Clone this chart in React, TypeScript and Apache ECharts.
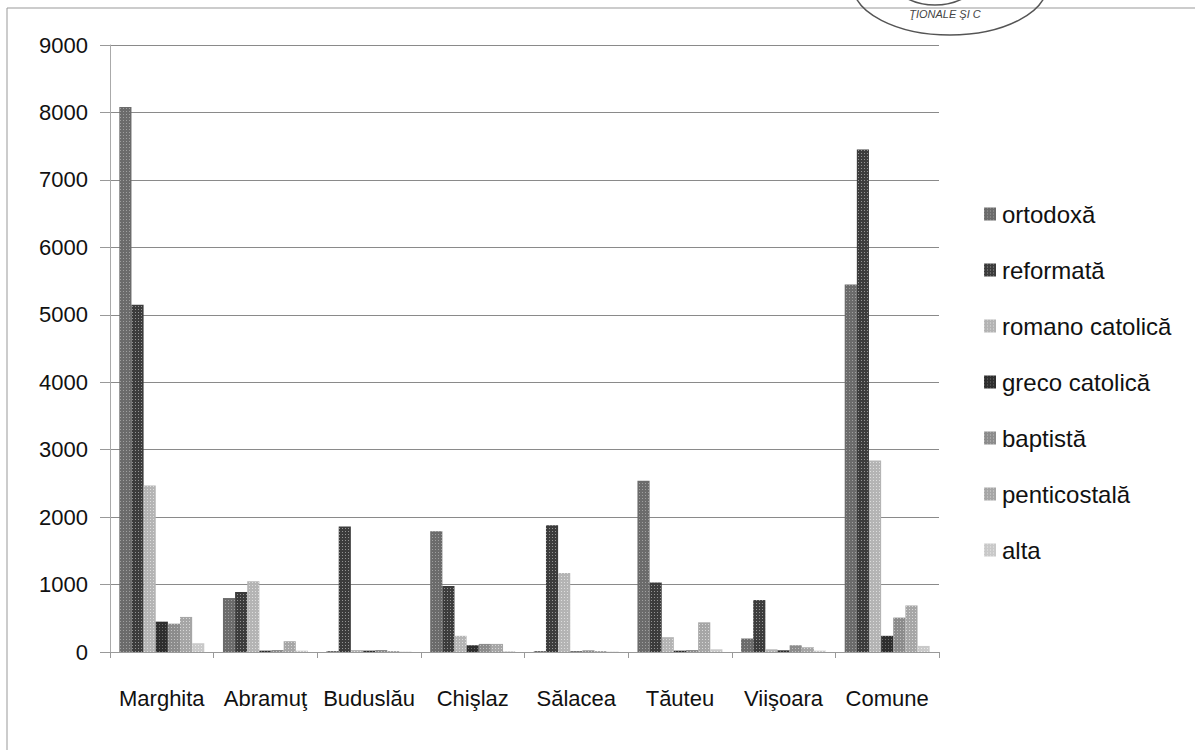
import React, { useEffect, useRef } from "react";
import * as echarts from "echarts";

const categories = ["Marghita", "Abramuţ", "Buduslău", "Chişlaz", "Sălacea", "Tăuteu", "Viişoara", "Comune"];
const seriesNames = ["ortodoxă", "reformată", "romano catolică", "greco catolică", "baptistă", "penticostală", "alta"];
const ortodoxa = [8080, 800, 15, 1790, 15, 2540, 200, 5450];
const reformata = [5150, 890, 1860, 980, 1880, 1030, 770, 7450];
const romanoCatolica = [2470, 1050, 30, 240, 1170, 220, 40, 2840];
const grecoCatolica = [450, 20, 20, 100, 10, 20, 25, 240];
const baptista = [420, 30, 30, 120, 25, 30, 100, 510];
const penticostala = [520, 160, 15, 120, 15, 440, 70, 690];
const alta = [130, 20, 5, 10, 5, 40, 20, 90];
const yTicks = { min: 0, max: 9000, interval: 1000 };

const seriesData = [ortodoxa, reformata, romanoCatolica, grecoCatolica, baptista, penticostala, alta];
const colors = ["#6b6b6b", "#3c3c3c", "#b4b4b4", "#2e2e2e", "#8c8c8c", "#a6a6a6", "#c9c9c9"];
const dotColors = [
  "rgba(255,255,255,0.35)",
  "rgba(255,255,255,0.45)",
  "rgba(255,255,255,0.55)",
  "rgba(255,255,255,0.3)",
  "rgba(255,255,255,0.45)",
  "rgba(255,255,255,0.55)",
  "rgba(255,255,255,0.6)",
];

const FONT = "'Liberation Sans', Arial, sans-serif";

export default function App() {
  const ref = useRef<HTMLDivElement>(null);
  useEffect(() => {
    if (!ref.current) return;
    const chart = echarts.init(ref.current, null, { renderer: "svg" });
    chart.setOption({
      animation: false,
      backgroundColor: "#ffffff",
      textStyle: { fontFamily: FONT },
      grid: { left: 110, right: 256, top: 45, bottom: 98, containLabel: false },
      legend: {
        orient: "vertical",
        left: 979,
        top: 197,
        itemWidth: 12,
        itemHeight: 13,
        itemGap: 32,
        icon: "rect",
        data: seriesNames,
        textStyle: { fontSize: 24, color: "#111", fontFamily: FONT, padding: [0, 0, 0, 1] },
      },
      xAxis: {
        type: "category",
        data: categories,
        axisLine: { show: true, lineStyle: { color: "#999", width: 1 } },
        axisTick: { show: true, length: 6, lineStyle: { color: "#999" } },
        axisLabel: { interval: 0, fontSize: 22, color: "#111", margin: 35, fontFamily: FONT },
      },
      yAxis: {
        type: "value",
        min: yTicks.min,
        max: yTicks.max,
        interval: yTicks.interval,
        axisLine: { show: true, lineStyle: { color: "#aaa", width: 1 } },
        axisTick: { show: true, length: 10, lineStyle: { color: "#999" } },
        axisLabel: { fontSize: 22, color: "#111", margin: 22, fontFamily: FONT, formatter: (v: number) => String(v) },
        splitLine: { show: true, lineStyle: { color: "#8a8a8a", width: 1 } },
      },
      series: seriesNames.map((name, i) => ({
        name,
        type: "bar",
        data: seriesData[i],
        barGap: "0%",
        barCategoryGap: "18%",
        itemStyle: {
          color: colors[i],
          decal: {
            symbol: "rect",
            symbolSize: 1,
            color: dotColors[i],
            dashArrayX: [1, 2],
            dashArrayY: [1, 2],
            rotation: 0,
          },
        },
      })),
      graphic: [
        { type: "line", shape: { x1: 7, y1: 8, x2: 1195, y2: 8 }, style: { stroke: "#999", lineWidth: 1 } },
        { type: "line", shape: { x1: 7, y1: 8, x2: 7, y2: 750 }, style: { stroke: "#999", lineWidth: 1 } },
        { type: "ellipse", shape: { cx: 950, cy: -15, rx: 97, ry: 50 }, style: { fill: "none", stroke: "#555", lineWidth: 1.5 } },
        { type: "ellipse", shape: { cx: 935, cy: -30, rx: 48, ry: 35 }, style: { fill: "none", stroke: "#555", lineWidth: 1.5 } },
        { type: "text", x: 945, y: 14, style: { text: "ŢIONALE ŞI C", fontSize: 11, fill: "#444", align: "center", verticalAlign: "middle", fontFamily: FONT, fontStyle: "italic" } },
      ],
    });
    return () => chart.dispose();
  }, []);
  return <div ref={ref} style={{ width: 1195, height: 750, position: "absolute", left: 0, top: 0 }} />;
}
